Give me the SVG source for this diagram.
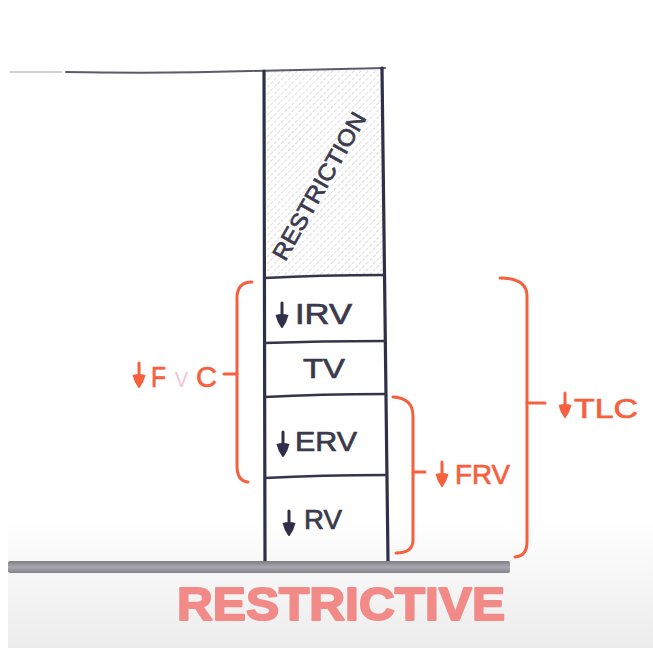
<svg xmlns="http://www.w3.org/2000/svg" xmlns:xlink="http://www.w3.org/1999/xlink" width="653" height="648" viewBox="0 0 653 648">
  <defs>
    <linearGradient id="bg" x1="0" y1="0" x2="0" y2="1">
      <stop offset="0" stop-color="#ffffff"/>
      <stop offset="0.8" stop-color="#ffffff"/>
      <stop offset="1" stop-color="#ececec"/>
    </linearGradient>
    <linearGradient id="bar" x1="0" y1="0" x2="0" y2="1">
      <stop offset="0" stop-color="#7e7c86"/>
      <stop offset="0.5" stop-color="#a9a7ae"/>
      <stop offset="1" stop-color="#85838c"/>
    </linearGradient>
    <pattern id="hatch" patternUnits="userSpaceOnUse" width="5" height="5" patternTransform="rotate(45)">
      <line x1="0" y1="0" x2="0" y2="5" stroke="#a9a9b4" stroke-width="1" stroke-dasharray="3 1.5"/>
    </pattern>
    <g id="arrowD">
      <line x1="0" y1="0" x2="0" y2="14" stroke="currentColor" stroke-width="3" stroke-linecap="round"/>
      <path d="M-6.5,12 Q0,10 6.5,12 Q5,19 0.5,25 L-0.5,25 Q-5,19 -6.5,12 Z" fill="currentColor"/>
    </g>
  </defs>
  <style>
    .col { stroke: #2f2f4a; stroke-width: 3.2; fill: none; stroke-linecap: round; }
    .div { stroke: #34344c; stroke-width: 2.4; fill: none; stroke-linecap: round; }
    .lbl { font-family: "Liberation Sans", Arial, sans-serif; fill: #3a3a4c; stroke: #3a3a4c; stroke-width: 0.7; }
    .red { stroke: #f5613f; stroke-width: 3; fill: none; stroke-linecap: round; stroke-linejoin: round; }
    .rlbl { font-family: "Liberation Sans", Arial, sans-serif; fill: #f5613f; stroke: #f5613f; stroke-width: 0.7; }
  </style>

  <rect x="0" y="0" width="653" height="648" fill="url(#bg)"/>
  <rect x="0" y="0" width="8" height="648" fill="#ffffff"/>

  <g id="restriction">
    <rect x="265" y="70" width="119" height="207" fill="url(#hatch)" opacity="0.8"/>
    <text class="lbl" x="0" y="0" font-size="23" textLength="166" lengthAdjust="spacingAndGlyphs" text-anchor="middle" transform="translate(326,190) rotate(-60.5)">RESTRICTION</text>
  </g>

  <g id="column">
    <path d="M10,72 L62,72" stroke="#d0d0d6" stroke-width="2" fill="none"/>
    <path d="M66,72 Q160,74 250,71 L385,68" stroke="#5a5a6c" stroke-width="2" fill="none" stroke-linecap="round"/>
    <path class="col" d="M264,71 L265,561"/>
    <path class="col" d="M382,68 L388,561"/>
    <path class="div" d="M265,278 Q320,275 384,275"/>
    <path class="div" d="M265,343 Q320,341 385,341"/>
    <path class="div" d="M265,397 Q320,394 386,394"/>
    <path class="div" d="M265,478 Q320,475 387,475"/>
  </g>

  <g id="irv">
    <use href="#arrowD" x="282" y="303" color="#2f2f4a"/>
    <text class="lbl" x="295" y="324" font-size="29" textLength="57" lengthAdjust="spacingAndGlyphs">IRV</text>
  </g>
  <g id="tv">
    <text class="lbl" x="303" y="378" font-size="28" textLength="42" lengthAdjust="spacingAndGlyphs">TV</text>
  </g>
  <g id="erv">
    <use href="#arrowD" x="283" y="432" color="#2f2f4a"/>
    <text class="lbl" x="295" y="451" font-size="27" textLength="62" lengthAdjust="spacingAndGlyphs">ERV</text>
  </g>
  <g id="rv">
    <use href="#arrowD" x="289" y="511" color="#2f2f4a"/>
    <text class="lbl" x="304" y="529" font-size="27" textLength="38" lengthAdjust="spacingAndGlyphs">RV</text>
  </g>

  <g id="baseline">
    <rect x="8" y="561" width="502" height="12" rx="2" fill="url(#bar)"/>
  </g>

  <g id="connectors">
    <path class="red" d="M252,282 Q237,282 237,298 L237,466 Q237,481 248,482"/>
    <path class="red" d="M224,374 L237,374"/>
    <path class="red" d="M393,397 Q413,398 413,416 L413,540 Q413,553 396,553"/>
    <path class="red" d="M413,472 L425,472"/>
    <path class="red" d="M500,278 Q527,278 527,296 L527,542 Q527,556 515,557"/>
    <path class="red" d="M527,403 L545,403"/>
  </g>

  <g id="fvc">
    <use href="#arrowD" x="139" y="363" color="#f5613f"/>
    <text class="rlbl" x="151" y="387" font-size="30"><tspan textLength="15" lengthAdjust="spacingAndGlyphs">F</tspan><tspan x="175" fill="#f4c2d2" stroke="none" font-size="22" textLength="13" lengthAdjust="spacingAndGlyphs">V</tspan><tspan x="196" textLength="21" lengthAdjust="spacingAndGlyphs">C</tspan></text>
  </g>
  <g id="frv">
    <use href="#arrowD" x="442" y="462" color="#f5613f"/>
    <text class="rlbl" x="455" y="484" font-size="27" textLength="55" lengthAdjust="spacingAndGlyphs">FRV</text>
  </g>
  <g id="tlc">
    <use href="#arrowD" x="565" y="393" color="#f5613f"/>
    <text class="rlbl" x="574" y="418" font-size="28" textLength="64" lengthAdjust="spacingAndGlyphs">TLC</text>
  </g>

  <g id="title">
    <text x="177" y="620" font-family="'Liberation Sans', Arial, sans-serif" font-weight="bold" font-size="47" fill="#f28b88" stroke="#f28b88" stroke-width="2" stroke-linejoin="round" textLength="328" lengthAdjust="spacingAndGlyphs">RESTRICTIVE</text>
  </g>
</svg>
